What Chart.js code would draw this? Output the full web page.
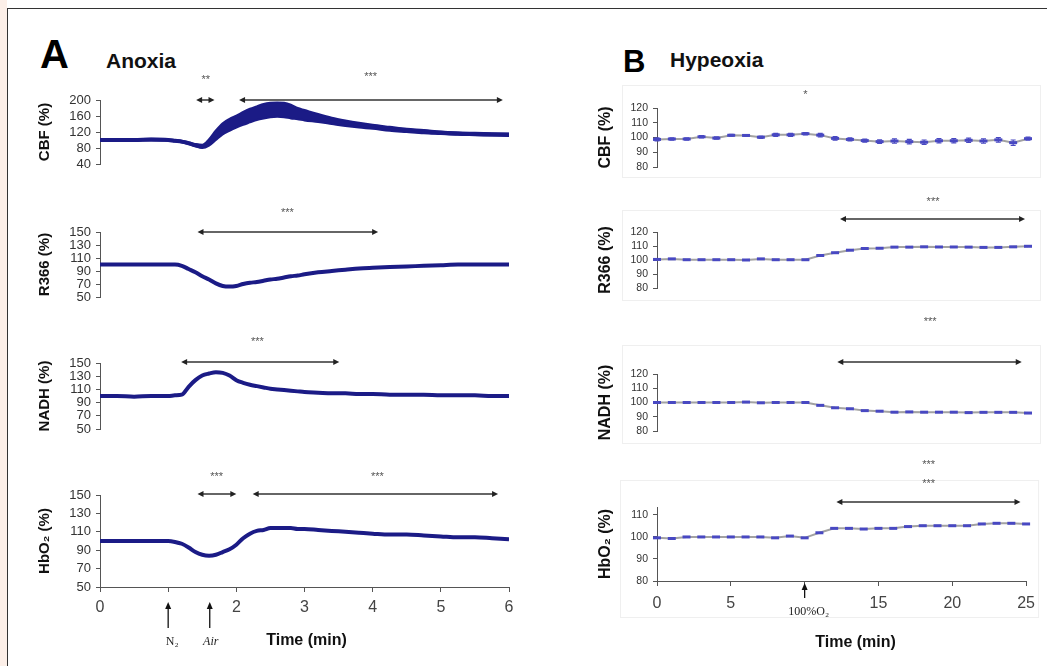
<!DOCTYPE html>
<html>
<head>
  <meta charset="utf-8">
  <title>Anoxia vs Hypeoxia: CBF, R366, NADH, HbO2</title>
  <script src="https://cdn.jsdelivr.net/npm/chart.js"></script>
  <style>
    body {
      margin: 0;
      background: #fff;
      font-family: Arial, 'Liberation Sans', sans-serif;
    }
    #page {
      position: relative;
      width: 1047px;
      height: 666px;
      overflow: hidden;
      background: #fff;
    }
    /* pale strip + frame line on the left, like the scanned figure */
    .strip { position: absolute; left: 0; top: 0; width: 7px; height: 666px; background: #fcefe8; }
    .frameL { position: absolute; left: 7px; top: 8px; width: 1px; height: 658px; background: #333; }
    .frameT { position: absolute; left: 7px; top: 8px; width: 1040px; height: 1px; background: #333; }
    .plot { position: absolute; }
    .letter { position: absolute; font-weight: bold; color: #000; }
    .ptitle { position: absolute; font-weight: bold; font-size: 21px; line-height: 21px; color: #111; }
  </style>
</head>
<body>
<div id="page">
  <div class="strip"></div>
  <div class="frameL"></div>
  <div class="frameT"></div>
  <div class="letter" style="left:40px; top:34px; font-size:40px; line-height:40px;">A</div>
  <div class="ptitle" style="left:106px; top:50px;">Anoxia</div>
  <div class="letter" style="left:623px; top:46px; font-size:31px; line-height:31px;">B</div>
  <div class="ptitle" style="left:670px; top:49px;">Hypeoxia</div>
</div>

<script>
  // ---------- Panel A: anoxia, time in minutes ----------
  const tA = [0, 0.25, 0.5, 0.75, 1.0, 1.1, 1.2, 1.3, 1.4, 1.5, 1.6, 1.7, 1.8, 1.9,
              2.0, 2.1, 2.2, 2.3, 2.4, 2.5, 2.6, 2.7, 2.8, 2.9, 3.0, 3.2, 3.4, 3.6, 3.8,
              4.0, 4.25, 4.5, 4.75, 5.0, 5.25, 5.5, 5.75, 6.0];
  const cbfA    = [100, 100, 100, 101, 100, 98, 96, 92, 87, 84, 94, 112, 128, 138,
                   146, 154, 161, 167, 172, 175, 176, 175, 171, 166, 162, 155, 148, 142, 137,
                   133, 128, 124, 121, 118, 116, 115, 114, 113];
  const cbfAErr = [2, 2, 2, 2, 2, 2, 2, 2, 3, 4, 8, 12, 14, 15,
                   15, 16, 17, 17, 18, 18, 18, 18, 17, 14, 13, 10, 8, 7, 6,
                   5, 5, 4, 4, 3, 3, 3, 3, 3];
  const r366A   = [100, 100, 100, 100, 100, 100, 98, 93, 88, 82, 77, 71, 67, 66,
                   67, 70, 72, 73, 75, 77, 78, 80, 82, 83, 85, 88, 90, 92, 94,
                   95, 96, 97, 98, 99, 100, 100, 100, 100];
  const nadhA   = [100, 100, 99, 100, 100, 101, 102, 114, 124, 131, 134, 136, 135, 131,
                   124, 120, 117, 115, 113, 111, 110, 109, 108, 107, 106, 105, 104, 104, 103,
                   103, 102, 102, 102, 101, 101, 101, 100, 100];
  const hbo2A   = [100, 100, 100, 100, 100, 99, 97, 93, 88, 85, 84, 85, 88, 91,
                   96, 103, 108, 111, 112, 114, 114, 114, 114, 113, 113, 112, 111, 110, 109,
                   108, 107, 107, 106, 105, 104, 104, 103, 102];

  // ---------- Panel B: hyperoxia, time in minutes ----------
  const tB = [0, 1, 2, 3, 4, 5, 6, 7, 8, 9, 10, 11, 12, 13, 14, 15, 16, 17, 18, 19, 20, 21, 22, 23, 24, 25];
  const cbfB    = [98.7, 99, 99, 100.5, 99.6, 101.5, 101.4, 100.2, 101.8, 101.8, 102.6, 101.6, 99.4,
                   98.7, 97.9, 97.2, 97.6, 97.2, 96.8, 97.8, 97.8, 98.1, 97.6, 98.4, 96.5, 99.2];
  const cbfBErr = [1, 0.8, 0.8, 0.8, 0.8, 0.6, 0.6, 0.8, 1, 1, 0.8, 1.2, 1.2,
                   1, 1, 1.2, 1.5, 1.5, 1.5, 1.5, 1.5, 1.5, 1.5, 1.5, 1.8, 1];
  const r366B   = [100.4, 100.8, 100.2, 100.2, 100.2, 100.2, 100, 100.8, 100.2, 100.2, 100.2, 103.2, 105.2,
                   107, 108.2, 108.4, 109.2, 109.2, 109.4, 109.3, 109.3, 109.2, 109, 109, 109.4, 109.8];
  const nadhB   = [100, 100, 100, 100, 100, 100, 100.3, 99.8, 100, 100, 100, 98, 96.3,
                   95.6, 94.3, 93.9, 93.2, 93.4, 93.2, 93.2, 93.2, 92.9, 93.1, 93.1, 93.1, 92.6];
  const hbo2B   = [99.6, 99.3, 100, 100, 100, 100, 100, 100, 99.6, 100.4, 99.6, 101.9, 103.9,
                   103.9, 103.6, 103.9, 103.9, 104.7, 105.1, 105.1, 105.1, 105.1, 105.9, 106.2, 106.2, 105.9];
  const hbo2BTicks = [80, 90, 100, 110];

  // significance spans [from, to] in minutes
  const sigCbfA  = [[1.41, 1.68], [2.04, 5.91]];
  const sigR366A = [[1.43, 4.08]];
  const sigNadhA = [[1.19, 3.51]];
  const sigHbo2A = [[1.43, 2.0], [2.24, 5.84]];
  const sigR366B = [[12.33, 24.8]];
  const sigNadhB = [[12.15, 24.58]];
  const sigHbo2B = [[12.15, 24.62]];

  const NAVY = '#1b1b86';
  const DOT = '#4848c2';
  const SANS = "Arial, 'Liberation Sans', sans-serif";
  const SERIF = "'Liberation Serif', 'Times New Roman', serif";

  // draws significance arrows, stars, event arrows, error bars, x label
  function marks(cfg) {
    return {
      id: 'marks',
      beforeDraw(chart) {
        if (!cfg.box) return;
        const a = chart.chartArea, b = cfg.box, ctx = chart.ctx;
        ctx.save();
        ctx.strokeStyle = '#efefef';
        ctx.lineWidth = 1;
        ctx.strokeRect(a.left - b[0] + 0.5, a.top - b[1] + 0.5, a.right - a.left + b[0] + b[2], a.bottom - a.top + b[1] + b[3]);
        ctx.restore();
      },
      afterDatasetsDraw(chart) {
        const ctx = chart.ctx, xs = chart.scales.x, ys = chart.scales.y, a = chart.chartArea;
        ctx.save();
        // error bars
        if (cfg.err) {
          ctx.strokeStyle = DOT;
          ctx.lineWidth = 1.2;
          cfg.err.t.forEach((t, i) => {
            const x = xs.getPixelForValue(t);
            const y1 = ys.getPixelForValue(cfg.err.v[i] + cfg.err.e[i]);
            const y2 = ys.getPixelForValue(cfg.err.v[i] - cfg.err.e[i]);
            ctx.beginPath();
            ctx.moveTo(x, y1); ctx.lineTo(x, y2);
            ctx.moveTo(x - 2.5, y1); ctx.lineTo(x + 2.5, y1);
            ctx.moveTo(x - 2.5, y2); ctx.lineTo(x + 2.5, y2);
            ctx.stroke();
          });
        }
        // significance arrows
        (cfg.spans || []).forEach(s => {
          const x1 = xs.getPixelForValue(s[0]), x2 = xs.getPixelForValue(s[1]);
          const y = a.top - cfg.arrowDy;
          ctx.strokeStyle = '#666';
          ctx.lineWidth = 2;
          ctx.beginPath(); ctx.moveTo(x1 + 3, y); ctx.lineTo(x2 - 3, y); ctx.stroke();
          ctx.fillStyle = '#222';
          ctx.beginPath(); ctx.moveTo(x1, y); ctx.lineTo(x1 + 6, y - 3); ctx.lineTo(x1 + 6, y + 3); ctx.closePath(); ctx.fill();
          ctx.beginPath(); ctx.moveTo(x2, y); ctx.lineTo(x2 - 6, y - 3); ctx.lineTo(x2 - 6, y + 3); ctx.closePath(); ctx.fill();
        });
        // stars
        ctx.fillStyle = '#555';
        ctx.font = '11px ' + SANS;
        ctx.textAlign = 'center';
        ctx.textBaseline = 'middle';
        (cfg.stars || []).forEach(s => {
          ctx.fillText(s[1], xs.getPixelForValue(s[0]), a.top - s[2]);
        });
        // event arrows (N2, Air, 100% O2)
        (cfg.events || []).forEach(ev => {
          const x = xs.getPixelForValue(ev[0]);
          const tip = a.bottom + cfg.evTip, tail = a.bottom + cfg.evTail;
          ctx.strokeStyle = '#111';
          ctx.lineWidth = 1.3;
          ctx.beginPath(); ctx.moveTo(x, tail); ctx.lineTo(x, tip + 4); ctx.stroke();
          ctx.fillStyle = '#111';
          ctx.beginPath(); ctx.moveTo(x, tip); ctx.lineTo(x - 3, tip + 7); ctx.lineTo(x + 3, tip + 7); ctx.closePath(); ctx.fill();
          ctx.font = (ev[2] ? 'italic ' : '') + '12px ' + SERIF;
          ctx.fillStyle = '#222';
          ctx.fillText(ev[1], x + ev[3], a.bottom + cfg.evLabel);
        });
        // x axis title
        if (cfg.xlabel) {
          ctx.fillStyle = '#111';
          ctx.font = 'bold 16px ' + SANS;
          ctx.fillText(cfg.xlabel, (a.left + a.right) / 2 + cfg.xlabelDx, a.bottom + cfg.xlabelDy);
        }
        ctx.restore();
      }
    };
  }

  function pts(ts, vals) {
    return ts.map((t, i) => ({ x: t, y: vals[i] }));
  }

  function lineA(vals) {
    return { data: pts(tA, vals), borderColor: NAVY, borderWidth: 4, pointRadius: 0,
             tension: 0.35, cubicInterpolationMode: 'monotone', fill: false };
  }

  function lineB(vals) {
    return { data: pts(tB, vals), borderColor: '#a2a2a2', borderWidth: 2,
             pointStyle: 'line', pointRadius: 4, pointBorderColor: DOT, pointBorderWidth: 3,
             pointBackgroundColor: DOT, tension: 0, fill: false, clip: 10 };
  }

  function yScale(min, max, step, title, yW, tickSize, titleSize, fixedTicks) {
    const s = {
      min: min, max: max,
      afterFit: sc => { sc.width = yW; },
      ticks: { stepSize: step, autoSkip: false, color: '#333', font: { family: SANS, size: tickSize }, padding: 5 },
      grid: { drawOnChartArea: false, tickLength: 4, color: '#555' },
      border: { color: '#555', width: 1 },
      title: { display: true, text: title, color: '#111', padding: 0,
               font: { family: SANS, size: titleSize, weight: 'bold' } }
    };
    if (fixedTicks) s.afterBuildTicks = sc => { sc.ticks = fixedTicks.map(v => ({ value: v })); };
    return s;
  }

  // hide: tick value replaced by an event arrow
  function xScale(max, step, show, hide, pad) {
    return {
      type: 'linear', min: 0, max: max, display: show,
      afterFit: sc => { sc.height = 30; },
      ticks: { stepSize: step, autoSkip: false, color: '#444', font: { family: SANS, size: 16 }, padding: pad,
               callback: v => (v === hide) ? '' : v },
      grid: { drawOnChartArea: false, tickLength: 5, color: '#555' },
      border: { color: '#555', width: 1 }
    };
  }

  function panel(box, pad, yW, datasets, x, y, cfg) {
    const w = box.r - box.l + pad.l + pad.r;
    const h = box.b - box.t + pad.t + pad.b;
    const div = document.createElement('div');
    div.className = 'plot';
    div.style.left = (box.l - pad.l) + 'px';
    div.style.top = (box.t - pad.t) + 'px';
    const cv = document.createElement('canvas');
    cv.width = w; cv.height = h;
    cv.style.width = w + 'px'; cv.style.height = h + 'px';
    div.appendChild(cv);
    document.getElementById('page').appendChild(div);
    return new Chart(cv, {
      type: 'line',
      data: { datasets: datasets },
      options: {
        responsive: false,
        animation: false,
        layout: { padding: { left: pad.l - yW, top: pad.t, right: pad.r, bottom: x.display ? pad.b - 30 : pad.b } },
        plugins: { legend: { display: false }, tooltip: { enabled: false } },
        scales: { x: x, y: y }
      },
      plugins: [marks(cfg)]
    });
  }

  // ----- Panel A -----
  const padA = { l: 70, t: 40, r: 20, b: 12 };
  const padAbot = { l: 70, t: 40, r: 20, b: 62 };
  const YWA = 64;

  panel({ l: 100, r: 509, t: 100, b: 194 }, padA, YWA,
    [
      { data: tA.map((t, i) => ({ x: t, y: cbfA[i] + cbfAErr[i] })), borderColor: NAVY, borderWidth: 2,
        pointRadius: 0, tension: 0.35, cubicInterpolationMode: 'monotone', fill: false },
      { data: tA.map((t, i) => ({ x: t, y: cbfA[i] - cbfAErr[i] })), borderColor: NAVY, borderWidth: 2,
        pointRadius: 0, tension: 0.35, cubicInterpolationMode: 'monotone', fill: '-1', backgroundColor: NAVY },
      lineA(cbfA)
    ],
    xScale(6, 1, false), yScale(40, 200, 40, 'CBF (%)', YWA, 13, 15),
    { spans: sigCbfA, arrowDy: 0, stars: [[1.55, '**', 20], [3.97, '***', 23]] });

  panel({ l: 100, r: 509, t: 232, b: 327 }, padA, YWA, [lineA(r366A)],
    xScale(6, 1, false), yScale(50, 150, 20, 'R366 (%)', YWA, 13, 15),
    { spans: sigR366A, arrowDy: 0, stars: [[2.75, '***', 19]] });

  panel({ l: 100, r: 509, t: 363, b: 459 }, padA, YWA, [lineA(nadhA)],
    xScale(6, 1, false), yScale(50, 150, 20, 'NADH (%)', YWA, 13, 15),
    { spans: sigNadhA, arrowDy: 1, stars: [[2.31, '***', 21]] });

  panel({ l: 100, r: 509, t: 495, b: 587 }, padAbot, YWA, [lineA(hbo2A)],
    xScale(6, 1, true, 1, 6), yScale(50, 150, 20, 'HbO\u2082 (%)', YWA, 13, 15),
    { spans: sigHbo2A, arrowDy: 1, stars: [[1.71, '***', 18], [4.07, '***', 18]],
      events: [[1, 'N\u2082', false, 4], [1.61, 'Air', true, 1]], evTip: 15, evTail: 41, evLabel: 55,
      xlabel: 'Time (min)', xlabelDx: 2, xlabelDy: 54 });

  // ----- Panel B -----
  const padB = { l: 65, t: 60, r: 15, b: 14 };
  const padBbot = { l: 65, t: 60, r: 15, b: 72 };
  const YWB = 61;

  panel({ l: 657, r: 1028, t: 108, b: 197 }, padB, YWB, [lineB(cbfB)],
    xScale(25, 5, false), yScale(80, 120, 10, 'CBF (%)', YWB, 10.5, 16),
    { box: [35, 23, 12, 10], stars: [[10, '*', 13]], err: { t: tB, v: cbfB, e: cbfBErr } });

  panel({ l: 657, r: 1028, t: 232, b: 318 }, padB, YWB, [lineB(r366B)],
    xScale(25, 5, false), yScale(80, 120, 10, 'R366 (%)', YWB, 10.5, 16),
    { box: [35, 22, 12, 12], spans: sigR366B, arrowDy: 13, stars: [[18.6, '***', 30]] });

  panel({ l: 657, r: 1028, t: 374, b: 461 }, padB, YWB, [lineB(nadhB)],
    xScale(25, 5, false), yScale(80, 120, 10, 'NADH (%)', YWB, 10.5, 16),
    { box: [35, 29, 12, 12], spans: sigNadhB, arrowDy: 12, stars: [[18.4, '***', 52]] });

  panel({ l: 657, r: 1028, t: 507, b: 581 }, padBbot, YWB, [lineB(hbo2B)],
    xScale(25, 5, true, 10, 8), yScale(80, 113.6, 10, 'HbO\u2082 (%)', YWB, 10.5, 16, hbo2BTicks),
    { box: [37, 27, 12, 36], spans: sigHbo2B, arrowDy: 5, stars: [[18.4, '***', 42], [18.4, '***', 23]],
      events: [[10, '100%O\u2082', false, 4]], evTip: 2, evTail: 17, evLabel: 31,
      xlabel: 'Time (min)', xlabelDx: 14, xlabelDy: 62 });
</script>
</body>
</html>
